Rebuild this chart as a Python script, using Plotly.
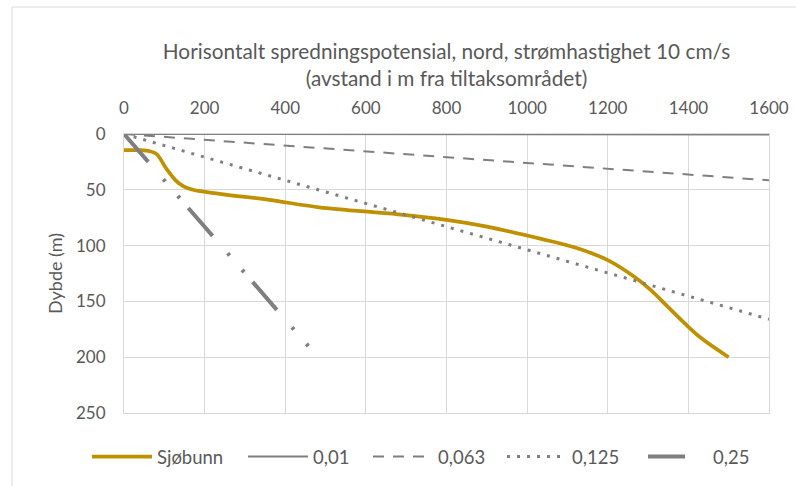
import plotly.graph_objects as go

# Data
sjobunn_x = [0, 40, 64, 81, 105, 128, 148, 171, 237, 360, 484, 680, 800, 900, 1035, 1117, 1200, 1266, 1307, 1348, 1389, 1430, 1500]
sjobunn_y = [14.5, 14.5, 15.5, 18, 31, 41.5, 47, 50, 53.6, 59, 65.7, 72, 77, 83, 94, 101.5, 113, 128, 140, 154.5, 169, 182.4, 200]

s001_x = [0, 1600]
s001_y = [0, 0.5]

s0063_x = [0, 1600]
s0063_y = [0, 41.5]

s0125_x = [0, 1600]
s0125_y = [0, 166]

s025_x = [0, 462]
s025_y = [0, 192]

GOLD = "#BF9000"
GRAY = "#7F7F7F"
TXT = "#595959"
GRID = "#D9D9D9"
FONT = "Lato"

fig = go.Figure()
fig.add_trace(go.Scatter(x=sjobunn_x, y=sjobunn_y, mode="lines", name="Sjøbunn", legendwidth=81,
                         line=dict(color=GOLD, width=3.7, shape="spline", smoothing=1.0)))
fig.add_trace(go.Scatter(x=s001_x, y=s001_y, mode="lines", name="0,01", legendwidth=50,
                         line=dict(color=GRAY, width=2)))
fig.add_trace(go.Scatter(x=s0063_x, y=s0063_y, mode="lines", name="0,063", legendwidth=59,
                         line=dict(color=GRAY, width=2, dash="11px,9px")))
fig.add_trace(go.Scatter(x=s0125_x, y=s0125_y, mode="lines", name="0,125", legendwidth=66,
                         line=dict(color=GRAY, width=3, dash="3px,7px")))
fig.add_trace(go.Scatter(x=s025_x, y=s025_y, mode="lines", name="0,25", legendwidth=40,
                         line=dict(color=GRAY, width=4, dash="37px,23px,3px,19px,3px,13px")))

L, R, T, B = 124, 27, 134, 73
W_PLOT = 796 - L - R
H_PLOT = 486 - T - B
fig.update_layout(
    width=796, height=486,
    margin=dict(l=L, r=R, t=T, b=B, autoexpand=False),
    paper_bgcolor="white", plot_bgcolor="white",
    font=dict(family=FONT, color=TXT, size=17),
    title=dict(text="Horisontalt spredningspotensial, nord, strømhastighet 10 cm/s<br>(avstand i m fra tiltaksområdet)",
               x=0.5, xref="paper", xanchor="center", y=0.879, yanchor="middle",
               font=dict(family=FONT, size=20.8, color=TXT)),
    xaxis=dict(range=[0, 1600], side="top", tickmode="linear", tick0=0, dtick=200,
               showgrid=True, gridcolor=GRID, gridwidth=1, zeroline=False, automargin=False,
               showline=True, mirror=True, linecolor=GRID, linewidth=1,
               ticks="", tickfont=dict(size=17, color=TXT), ticklabelstandoff=12),
    yaxis=dict(range=[250, 0], tickmode="linear", tick0=0, dtick=50,
               showgrid=True, gridcolor=GRID, gridwidth=1, zeroline=False, automargin=False,
               showline=True, mirror=True, linecolor=GRID, linewidth=1,
               ticks="", tickfont=dict(size=17, color=TXT), ticklabelstandoff=14,
               title=dict(text="Dybde (m)", font=dict(size=18, color=TXT), standoff=8)),
    legend=dict(orientation="h", x=(87 - L) / W_PLOT, xanchor="left",
                y=(T + H_PLOT - 457) / H_PLOT, yanchor="middle",
                font=dict(size=18.5, color=TXT), itemwidth=60, tracegroupgap=0),
    showlegend=True,
    shapes=[dict(type="rect", xref="paper", yref="paper",
                 x0=(12 - L) / W_PLOT, x1=(810 - L) / W_PLOT,
                 y0=(T + H_PLOT - 500) / H_PLOT, y1=(T + H_PLOT - 7) / H_PLOT,
                 line=dict(color=GRID, width=1), fillcolor="rgba(0,0,0,0)", layer="below")],
)

fig.write_html("out.html")
